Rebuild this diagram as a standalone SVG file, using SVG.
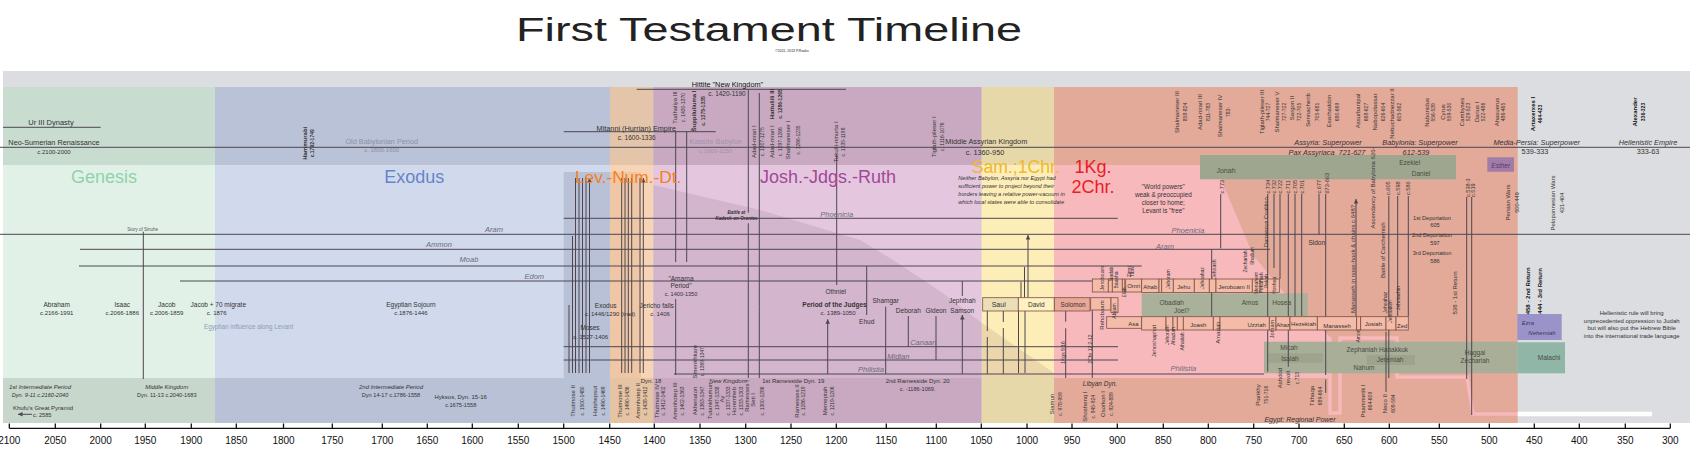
<svg xmlns="http://www.w3.org/2000/svg" width="1694" height="465" viewBox="0 0 1694 465">
<defs>
<marker id="ah" viewBox="0 0 6 6" refX="6" refY="3" markerWidth="4.5" markerHeight="4.5" orient="auto" markerUnits="userSpaceOnUse"><path d="M0,0L6,3L0,6z" fill="#4d4650"/></marker>
</defs>
<style>
text{font-family:"Liberation Sans",Arial,Helvetica,sans-serif;fill:#333}
.ln{stroke:#4d4650;stroke-width:1;fill:none}
.ar{stroke:#4d4650;stroke-width:1;fill:none;marker-end:url(#ah)}
.kb{stroke:#7e5040;stroke-width:0.8;fill:#f4bba9}
.m{text-anchor:middle}
.i{font-style:italic}
.b{font-weight:bold}
.s4{font-size:4.5px}
.s5{font-size:5px}
.s55{font-size:5.6px}
.s6{font-size:6px}
.s63{font-size:6.3px}
.s65{font-size:6.5px}
.s7{font-size:7px}
.s73{font-size:7.3px}
.s75{font-size:7.5px}
.nat{font-size:7.5px;font-style:italic;fill:#6e6a7a;text-anchor:middle}
.bk{font-size:18px}
.tk{font-family:"Liberation Sans Narrow","Liberation Sans",Arial,sans-serif;font-size:10px;text-anchor:middle;fill:#111}
.k{font-size:6px;text-anchor:middle}
.kd{font-size:5px;text-anchor:middle}
.pr{font-size:6.5px;text-anchor:middle;fill:#4a4c40}
</style>
<rect width="1694" height="465" fill="#ffffff"/>

<g id="title">
<text x="769" y="41" class="m" style="font-size:34px;fill:#222" textLength="506" lengthAdjust="spacingAndGlyphs">First Testament Timeline</text>
<text x="792" y="51.5" class="m" style="font-size:3.5px;fill:#222">©2011, 2013 P.Rooks</text>
</g>

<g id="background">
<rect x="3" y="71" width="1687" height="352" fill="#dcdde0"/>
<rect x="3" y="87" width="212" height="78" fill="#c8dcd0"/>
<rect x="3" y="165" width="212" height="213" fill="#e1f1e7"/>
<rect x="3" y="378" width="212" height="45" fill="#c7d7cc"/>
<rect x="215" y="87" width="395" height="78" fill="#b9c2d7"/>
<rect x="215" y="165" width="395" height="213" fill="#d1daed"/>
<rect x="563.7" y="172" width="46.3" height="206" fill="#b9c1d7"/>
<rect x="215" y="378" width="395" height="45" fill="#b9c1d7"/>
<rect x="610" y="87" width="43.3" height="78" fill="#e4c5aa"/>
<rect x="610" y="165" width="43.3" height="213" fill="#efc7a7"/>
<rect x="610" y="165" width="43.3" height="7" fill="#f8d4b6"/>
<rect x="641" y="172" width="12.3" height="206" fill="#f8d4b6"/>
<rect x="610" y="378" width="43.3" height="45" fill="#e6c3a3"/>
<rect x="653.3" y="87" width="328.4" height="78" fill="#c9a9c1"/>
<rect x="653.3" y="165" width="328.4" height="213" fill="#e4c7de"/>
<rect x="653.3" y="378" width="328.4" height="45" fill="#c9a9c1"/>
<rect x="981.7" y="87" width="72.3" height="78" fill="#e7d8aa"/>
<rect x="981.7" y="165" width="72.3" height="213" fill="#fdedb7"/>
<rect x="981.7" y="378" width="72.3" height="45" fill="#e7d8aa"/>
<rect x="1054" y="87" width="463.7" height="336" fill="#e3a999"/>
<polygon points="1054,165 1215,165 1253,255 1290,300 1330,337 1330,378 1054,378" fill="#f8b9bd"/>
<polygon points="653.3,185 760,210 860,240 893,260 940,291 982,323 1054,373 1054,378 653.3,378" fill="#4a1a40" opacity="0.1"/>
<polyline points="1330,337 1330,413 1340,413 1340,338 1397,338 1397,377 1467,377 1473,414 1517.7,414" fill="none" stroke="#f8b9bd" stroke-width="3.5"/>
<line x1="1517.7" y1="414" x2="1652" y2="414" stroke="#ffffff" stroke-width="4.5"/>
</g>

<g id="prophet-boxes">
<rect id="jonah-strip" x="1200" y="155" width="256" height="24.3" fill="#9fa68f"/>
<rect id="esther" x="1487.3" y="157.3" width="26.7" height="14.4" fill="#a27ca9"/>
<rect id="minor-prophets-1" x="1141.7" y="293.3" width="166" height="23.4" fill="#a9b19b"/>
<rect id="prophets-2" x="1264" y="341.7" width="253.7" height="31.6" fill="#a8ae98"/>
<rect x="1268.3" y="353.3" width="54.4" height="9.4" fill="#9da38c"/>
<rect x="1366.7" y="355" width="48.3" height="10" fill="#9da38c"/>
<rect id="malachi" x="1517.7" y="342.3" width="47.3" height="31" fill="#8fb6a6"/>
<rect id="ezra-nehemiah" x="1517.3" y="314" width="44.4" height="26" fill="#9a93c9"/>
</g>

<g id="connectors">
<path class="ln" d="M3,127.3H100.7M0,147.3H1690M636.7,89.3H846M563.7,131.7H715.7M563.7,218.3H1117.7M0,234.3H1690M80,249.3H1270M79,266H1141.7M180,281H1118M563.7,346.7H1118M563.7,360H1118M674,374H1264M143.3,231.7V379"/>
<path class="ar" d="M569,373V305M572.5,373V236M575.5,373V178M579,373V178M582.5,373V178M586,373V178M589.5,373V178"/>
<path class="ar" d="M621.7,373V178M625,373V178M628.3,373V178M631.7,373V178M640,373V178M643.3,373V178"/>
<path class="ar" d="M675.7,131.7V262M686.7,131.7V262M675.7,375V299M748.3,89.3V212.7M748.3,378V223.3M759.3,378V306.7M759.3,306.7V238.3M759.3,238.3V93M836.7,155V285M827.7,374V319.3"/>
<path class="ar" d="M866.7,266V315M885.7,374V306.7M908.3,346.7V316M936,360V316M962.3,281V296M962.3,374V315"/>
<path class="ar" d="M987.3,311V331M987.3,374V337M1003.3,311V322M1003.3,374V328M1018.5,311V373M1025,311V373M1021,297.7V282M1024.5,297.7V267M1028,297.7V235"/>
<path class="ar" d="M1065.7,311V321.7M1065.7,378V328.3M1092.3,378V310M1211.7,249.3V316.5M1220.7,194V248.3M1267.7,194V371.7M1274,194V268M1280,194V279M1288.3,194V366.7M1295,194V316M1301.7,194V316M1319,194V235M1325.7,194V375M1325.7,393V379.5M1356,316.7V199"/>
<path class="ar" d="M1388.8,196V378M1386,392V331.7M1397.7,196V316M1408.3,196V316.7M1466.7,197V379M1471.7,197V415M32,414.3H18"/>
</g>

<g id="king-boxes">
<g id="united-kingdom">
<rect x="982.7" y="297.7" width="35.6" height="13.3" class="kb" style="fill:#ebdfb8"/>
<rect x="1018.3" y="297.7" width="36" height="13.3" class="kb" style="fill:#fdf0c2"/>
<rect x="1054.3" y="297.7" width="35.7" height="13.3" class="kb" style="fill:#eaa898"/>
<text x="998.7" y="306.8" class="s7 m">Saul</text>
<text x="1036.3" y="306.8" class="s65 m">David</text>
<text x="1073" y="306.8" class="s63 m">Solomon</text>
</g>
<g id="israel-kings">
<rect x="1092.3" y="279" width="16" height="13" class="kb"/>
<rect x="1108.3" y="279" width="4" height="13" class="kb"/>
<rect x="1112.3" y="279" width="10" height="13" class="kb"/>
<rect x="1122.3" y="279" width="2.5" height="13" class="kb"/>
<rect x="1125.7" y="279" width="16" height="13" class="kb"/>
<rect x="1141.7" y="279" width="17.3" height="13.5" class="kb"/>
<rect x="1159" y="279" width="2.7" height="13.5" class="kb"/>
<rect x="1161.7" y="279" width="11.6" height="13.5" class="kb"/>
<rect x="1173.3" y="279" width="21" height="13.5" class="kb"/>
<rect x="1194.3" y="279" width="15" height="13.5" class="kb"/>
<rect x="1209.3" y="279" width="6.7" height="13.5" class="kb"/>
<rect x="1216" y="279" width="36.3" height="13.5" class="kb"/>
<rect x="1252.3" y="279" width="7.7" height="13.5" class="kb"/>
<rect x="1260" y="279" width="7.7" height="13.5" class="kb"/>
<rect x="1267.7" y="279" width="11.6" height="13.5" class="kb"/>
<text class="s55 m" transform="translate(1104 278) rotate(-90)">Jeroboam</text>
<text class="s5 m" transform="translate(1112.5 274) rotate(-90)">Nadab</text>
<text class="s5 m" transform="translate(1117.5 280) rotate(-90)">Baasha</text>
<text class="s5 m" transform="translate(1126 292.5) rotate(-90)">Elah</text>
<text class="s5 m" transform="translate(1130.5 271.7) rotate(-90)">Zimri</text>
<text class="s5 m" transform="translate(1134 271.7) rotate(-90)">Tibni</text>
<text x="1133.7" y="287.5" class="s6 m">Omri</text>
<text x="1150.3" y="289" class="s6 m">Ahab</text>
<text class="s5 m" transform="translate(1170 279) rotate(-90)">Jehoram</text>
<text x="1183.8" y="289" class="s6 m">Jehu</text>
<text class="s5 m" transform="translate(1203.5 278) rotate(-90)">Jehoahaz</text>
<text class="s5 m" transform="translate(1215.8 269) rotate(-90)">Jehoash</text>
<text x="1234" y="289" class="s6 m">Jeroboam II</text>
<text class="s5 m" transform="translate(1247 261.5) rotate(-90)">Zechariah</text>
<text class="s5 m" transform="translate(1254 256) rotate(-90)">Shallum</text>
<text class="s5 m" transform="translate(1257.5 283) rotate(-90)">Menahem</text>
<text class="s5 m" transform="translate(1263.3 283) rotate(-90)">Pekahiah</text>
<text class="s5 m" transform="translate(1268.3 281) rotate(-90)">Pekah</text>
<text class="s5 m" transform="translate(1275.5 285.5) rotate(-90)">Hoshea</text>
</g>
<g id="judah-kings">
<rect x="1090.7" y="297.7" width="20.3" height="12.3" class="kb"/>
<rect x="1111" y="297.7" width="7" height="15" class="kb"/>
<rect x="1106.7" y="316.7" width="35" height="11.6" class="kb"/>
<rect x="1141.7" y="316.7" width="24.3" height="13.3" class="kb"/>
<rect x="1166" y="316.7" width="7" height="13.3" class="kb"/>
<rect x="1173" y="316.7" width="4.3" height="13.3" class="kb"/>
<rect x="1177.3" y="316.7" width="6" height="13.3" class="kb"/>
<rect x="1183.3" y="316.7" width="30" height="13.3" class="kb"/>
<rect x="1213.3" y="316.7" width="6.7" height="13.3" class="kb"/>
<rect x="1220" y="316.7" width="49.3" height="13.3" class="kb"/>
<rect x="1269.3" y="316.7" width="6.7" height="13.3" class="kb"/>
<rect x="1276" y="316.7" width="14" height="13.3" class="kb"/>
<rect x="1290" y="316.7" width="27.3" height="13.3" class="kb"/>
<rect x="1317.3" y="316.7" width="39.4" height="13.3" class="kb"/>
<rect x="1356.7" y="316.7" width="4" height="13.3" class="kb"/>
<rect x="1360.7" y="316.7" width="25.3" height="13.3" class="kb"/>
<rect x="1386" y="316.7" width="10" height="13.3" class="kb"/>
<rect x="1396" y="316.7" width="12.3" height="13.3" class="kb"/>
<text class="s6 m" transform="translate(1104 315) rotate(-90)">Rehoboam</text>
<text class="s5 m" transform="translate(1116.3 311) rotate(-90)">Abijam</text>
<text x="1133.3" y="325.6" class="s6 m">Asa</text>
<text class="s55 m" transform="translate(1155.5 341) rotate(-90)">Jehoshaphat</text>
<text class="s5 m" transform="translate(1169.3 335) rotate(-90)">Jehoram</text>
<text class="s5 m" transform="translate(1174.7 336) rotate(-90)">Ahaziah</text>
<text class="s5 m" transform="translate(1183.7 341.5) rotate(-90)">Athaliah</text>
<text x="1198.3" y="327.4" class="s6 m">Joash</text>
<text class="s55 m" transform="translate(1220.3 332.5) rotate(-90)">Amaziah</text>
<text x="1256.7" y="327.4" class="s6 m">Uzziah</text>
<text class="s55 m" transform="translate(1273.7 329) rotate(-90)">Jotham</text>
<text x="1283" y="327.4" class="s6 m">Ahaz</text>
<text x="1303.6" y="325.7" class="s6 m">Hezekiah</text>
<text x="1337" y="328" class="s6 m">Manasseh</text>
<text class="s5 m" transform="translate(1360.3 336) rotate(-90)">Amon</text>
<text x="1373.3" y="326.4" class="s6 m">Josiah</text>
<text class="s5 m" transform="translate(1387 302.5) rotate(-90)">Jehoahaz</text>
<text class="s5 m" transform="translate(1392 311.5) rotate(-90)">Jehoiakim</text>
<text class="s5 m" transform="translate(1399.7 298) rotate(-90)">Jehoiachin</text>
<text x="1402.2" y="328" class="s6 m">Zed</text>
</g>
</g>

<g id="mesopotamia-labels">
<text x="51" y="125" class="s75 m">Ur III Dynasty</text>
<text x="54" y="145.3" class="s73 m">Neo-Sumerian Renaissance</text>
<text x="54" y="154" class="s6 m">c.2100-2000</text>
<text class="s6 m b" transform="translate(306.7 143.3) rotate(-90)">Hammurabi</text>
<text class="kd b" transform="translate(314.3 143.3) rotate(-90)">c.1792-1749</text>
<text x="381.7" y="144.3" class="s73 m" style="fill:#8a91a8">Old Babylonian Period</text>
<text x="381.7" y="152.3" class="s6 m" style="fill:#8a91a8">c. 1800-1600</text>
<text x="636.3" y="131" class="s73 m">Mitanni (Hurrian) Empire</text>
<text x="636.7" y="139.5" class="s65 m">c. 1600-1336</text>
<text x="727.5" y="86.5" class="s73 m" style="fill:#111">Hittite "New Kingdom"</text>
<text x="727" y="96" class="s65 m">c. 1420-1190</text>
<text x="715.7" y="144.3" class="s73 m" style="fill:#a393ab">Kassite Babylon</text>
<text x="715.7" y="152.5" class="s6 m" style="fill:#a393ab">c 1600-1150</text>
<text x="986.3" y="144.3" class="s73 m">Middle Assyrian Kingdom</text>
<text x="985" y="155.3" class="s73 m">c. 1360-950</text>
<text x="1328" y="145" class="s73 m i">Assyria: Superpower</text>
<text x="1327" y="154.5" class="s73 m i">Pax Assyriaca&#160;&#160;721-627</text>
<text x="1420" y="145" class="s73 m i">Babylonia: Superpower</text>
<text x="1416" y="154.5" class="s73 m i">612-539</text>
<text x="1536.7" y="145" class="s73 m i">Media-Persia: Superpower</text>
<text x="1535" y="154" class="s73 m">539-333</text>
<text x="1648" y="145" class="s73 m i">Hellenistic Empire</text>
<text x="1648" y="154" class="s73 m">333-63</text>
<text class="k" transform="translate(677 107.5) rotate(-90)">Tudhaliya III</text>
<text class="kd" transform="translate(685 107.5) rotate(-90)">c. 1430-1370</text>
<text class="k b" transform="translate(696 111) rotate(-90)">Šuppiluliuma I</text>
<text class="kd b" transform="translate(704.5 111) rotate(-90)">c. 1375-1335</text>
<text class="k" transform="translate(756 141.7) rotate(-90)">Adad-nirari I</text>
<text class="kd" transform="translate(764 141.7) rotate(-90)">c. 1307-1275</text>
<text class="k b" transform="translate(774 104) rotate(-90)">Hattušili III</text>
<text class="kd b" transform="translate(782 104) rotate(-90)">c. 1286-1265</text>
<text class="k" transform="translate(774 141.7) rotate(-90)">Adad-nirari I</text>
<text class="kd" transform="translate(782 141.7) rotate(-90)">c. 1297-1266</text>
<text class="k" transform="translate(790.3 140) rotate(-90)">Shalmaneser I</text>
<text class="kd" transform="translate(800 140) rotate(-90)">c. 1266-1235</text>
<text class="k" transform="translate(837.7 142) rotate(-90)">Tukulti-ninurta I</text>
<text class="kd" transform="translate(845.3 142) rotate(-90)">c. 1235-1198</text>
<text class="k" transform="translate(936 136.7) rotate(-90)">Tiglath-pileser I</text>
<text class="kd" transform="translate(944 136.7) rotate(-90)">c. 1116-1076</text>
<text class="k" transform="translate(1179.3 112) rotate(-90)">Shalmaneser III</text>
<text class="kd" transform="translate(1187 112) rotate(-90)">858-824</text>
<text class="k" transform="translate(1202 112) rotate(-90)">Adad-nirari III</text>
<text class="kd" transform="translate(1210 112) rotate(-90)">811-783</text>
<text class="k" transform="translate(1222 116) rotate(-90)">Shalmaneser IV</text>
<text class="kd" transform="translate(1230 112) rotate(-90)">783-</text>
<text class="k" transform="translate(1263.7 112) rotate(-90)">Tiglath-pileser III</text>
<text class="kd" transform="translate(1270.3 112) rotate(-90)">744-727</text>
<text class="k" transform="translate(1278.7 112) rotate(-90)">Shalmaneser V</text>
<text class="kd" transform="translate(1286.3 112) rotate(-90)">727-722</text>
<text class="k" transform="translate(1293.7 108) rotate(-90)">Sargon II</text>
<text class="kd" transform="translate(1301.3 112) rotate(-90)">722-705</text>
<text class="k" transform="translate(1310.3 110) rotate(-90)">Sennacherib</text>
<text class="kd" transform="translate(1318.7 112) rotate(-90)">705-681</text>
<text class="k" transform="translate(1331.3 111) rotate(-90)">Esarhaddon</text>
<text class="kd" transform="translate(1339.3 112) rotate(-90)">680-669</text>
<text class="k" transform="translate(1360.3 111) rotate(-90)">Assurbanipal</text>
<text class="kd" transform="translate(1368 112) rotate(-90)">668-627</text>
<text class="k" transform="translate(1377.3 112) rotate(-90)">Nabopolassar</text>
<text class="kd" transform="translate(1384.7 112) rotate(-90)">626-604</text>
<text class="k" transform="translate(1393.7 113.5) rotate(-90)">Nebuchadnezzar II</text>
<text class="kd" transform="translate(1401.3 112) rotate(-90)">605-562</text>
<text class="k" transform="translate(1429.3 112.4) rotate(-90)">Nabonidus</text>
<text class="kd" transform="translate(1435.3 112.4) rotate(-90)">556-539</text>
<text class="k" transform="translate(1445.3 112) rotate(-90)">Cyrus</text>
<text class="kd" transform="translate(1451.3 112) rotate(-90)">559-530</text>
<text class="k" transform="translate(1463.7 112) rotate(-90)">Cambyses</text>
<text class="kd" transform="translate(1470.3 112) rotate(-90)">529-523</text>
<text class="k" transform="translate(1479.3 112) rotate(-90)">Darius I</text>
<text class="kd" transform="translate(1485.3 112) rotate(-90)">522-486</text>
<text class="k" transform="translate(1498.7 112) rotate(-90)">Ahasuerus</text>
<text class="kd" transform="translate(1505.3 112) rotate(-90)">486-465</text>
<text class="k b" transform="translate(1534.7 114) rotate(-90)" style="fill:#111">Artaxerxes I</text>
<text class="kd b" transform="translate(1542 114) rotate(-90)" style="fill:#111">464-423</text>
<text class="k b" transform="translate(1637 112) rotate(-90)" style="fill:#111">Alexander</text>
<text class="kd b" transform="translate(1644.5 112) rotate(-90)" style="fill:#111">336-323</text>
</g>

<g id="book-titles">
<text x="104" y="182.7" class="bk m" style="fill:#8fd3aa">Genesis</text>
<text x="414.3" y="182.7" class="bk m" style="fill:#6585c9">Exodus</text>
<text x="575" y="182.7" class="bk" style="fill:#f5801e;font-size:17.3px">Lev.-Num.-Dt.</text>
<text x="760" y="182.7" class="bk" style="fill:#a2489a">Josh.-Jdgs.-Ruth</text>
<text x="971.7" y="173.3" class="bk" style="fill:#efb82e;font-size:17.6px">Sam.;1Chr.</text>
<text x="1093" y="173.3" class="bk m" style="fill:#ea1c24">1Kg.</text>
<text x="1093" y="192.7" class="bk m" style="fill:#ea1c24">2Chr.</text>
</g>

<g id="levant-labels">
<text x="142.7" y="230.5" class="s4 m" style="fill:#555">Story of Sinuhe</text>
<text x="494" y="231.8" class="nat">Aram</text>
<text x="439" y="247" class="nat">Ammon</text>
<text x="469" y="262.3" class="nat">Moab</text>
<text x="534.3" y="278.5" class="nat">Edom</text>
<text x="836.7" y="216.8" class="nat">Phoenicia</text>
<text x="1188" y="233" class="nat">Phoenicia</text>
<text x="1165" y="248.5" class="nat">Aram</text>
<text x="923.3" y="345.3" class="nat">Canaan</text>
<text x="898.3" y="358.6" class="nat">Midian</text>
<text x="871" y="372" class="nat">Philistia</text>
<text x="1183.3" y="371" class="nat">Philistia</text>
<text x="56.7" y="306.7" class="s65 m">Abraham</text>
<text x="56.7" y="315" class="s6 m">c.2166-1991</text>
<text x="122.3" y="306.7" class="s65 m">Isaac</text>
<text x="122.3" y="315" class="s6 m">c.2066-1886</text>
<text x="166.7" y="306.7" class="s65 m">Jacob</text>
<text x="166.7" y="315" class="s6 m">c.2006-1859</text>
<text x="218.3" y="306.7" class="s65 m">Jacob + 70 migrate</text>
<text x="216.7" y="315" class="s6 m">c. 1876</text>
<text x="204" y="328.5" class="s63" style="fill:#8c9bb5">Egyptian influence along Levant</text>
<text x="411" y="306.8" class="s65 m">Egyptian Sojourn</text>
<text x="411" y="315" class="s6 m">c.1876-1446</text>
<text x="681" y="280.7" class="s65 m">"Amarna</text>
<text x="681" y="288.4" class="s65 m">Period"</text>
<text x="681" y="296" class="s55 m">c. 1400-1350</text>
<text x="605.7" y="307.5" class="s65 m">Exodus</text>
<text x="610" y="315.6" class="s6 m">c. 1446/1290 (trad)</text>
<text x="590" y="330" class="s65 m">Moses</text>
<text x="590.7" y="338.6" class="s6 m">c. 1527-1406</text>
<text x="656.7" y="307.5" class="s65 m">Jericho falls</text>
<text x="660" y="315.6" class="s6 m">c. 1406</text>
<text x="736.5" y="213.5" class="s4 m i b">Battle at</text>
<text x="736.5" y="219.5" class="s4 m i b">Kadesh-on-Orontes</text>
<text x="835.7" y="294.2" class="s65 m">Othniel</text>
<text x="834.5" y="306.8" class="s65 m b">Period of the Judges</text>
<text x="838" y="315" class="s6 m">c. 1389-1050</text>
<text x="866.7" y="324.2" class="s65 m">Ehud</text>
<text x="885.7" y="303.2" class="s65 m">Shamgar</text>
<text x="908.3" y="313.2" class="s65 m">Deborah</text>
<text x="936" y="313.2" class="s65 m">Gideon</text>
<text x="962.3" y="303.2" class="s65 m">Jephthah</text>
<text x="962.3" y="313.2" class="s65 m">Samson</text>
<g class="s55 i" style="fill:#2a2030">
<text x="958.3" y="180">Neither Babylon, Assyria nor Egypt had</text>
<text x="958.3" y="188.3">sufficient power to project beyond their</text>
<text x="958.3" y="196">borders leaving a relative power-vacuum in</text>
<text x="958.3" y="204">which local states were able to consolidate</text>
</g>
<text x="1163.3" y="189.1" class="s63 m">"World powers"</text>
<text x="1163.3" y="196.8" class="s63 m">weak &amp; preoccupied</text>
<text x="1163.3" y="205.1" class="s63 m">closer to home;</text>
<text x="1163.3" y="213.4" class="s63 m">Levant is "free"</text>
<text x="1316.7" y="245" class="s65 m">Sidon</text>
<text class="s55" transform="translate(1223.5 193.5) rotate(-90)">c.773</text>
<text class="s55" transform="translate(1269.7 193.5) rotate(-90)">c.734</text>
<text class="s55" transform="translate(1276 193.5) rotate(-90)">c.732</text>
<text class="s55" transform="translate(1282 193.5) rotate(-90)">c.722</text>
<text class="s55" transform="translate(1290.3 193.5) rotate(-90)">c.711</text>
<text class="s55" transform="translate(1297 193.5) rotate(-90)">c.705</text>
<text class="s55" transform="translate(1303.7 193.5) rotate(-90)">c.701</text>
<text class="s55" transform="translate(1321 193.5) rotate(-90)">c.677</text>
<text class="s55" transform="translate(1328.7 193.5) rotate(-90)">673-663</text>
<text class="s55" transform="translate(1390.3 195) rotate(-90)">c.605</text>
<text class="s55" transform="translate(1399.7 195) rotate(-90)">c.598</text>
<text class="s55" transform="translate(1410.3 195) rotate(-90)">c.586</text>
<text class="s55" transform="translate(1470.3 197) rotate(-90)">c.538-3</text>
<text class="s55" transform="translate(1475.3 197) rotate(-90)">c.519</text>
<text class="s55" transform="translate(1268 247) rotate(-90)">Damascus Coalition</text>
<text class="s6" transform="translate(1374.7 228.5) rotate(-90)">Ascendancy of Babylonia 626-</text>
<text class="s6" transform="translate(1354.7 313) rotate(-90)">Manasseh in nose-hook &amp; chains c.648?</text>
<text class="s6" transform="translate(1384.7 278) rotate(-90)">Battle of Carchemish</text>
<text x="1432" y="219.5" class="s55 m">1st Deportation</text>
<text x="1435" y="227" class="s55 m">605</text>
<text x="1432" y="237.3" class="s55 m">2nd Deportation</text>
<text x="1435" y="245" class="s55 m">597</text>
<text x="1432" y="255" class="s55 m">3rd Deportation</text>
<text x="1435" y="262.7" class="s55 m">586</text>
<text class="s6 m" transform="translate(1510.3 202.5) rotate(-90)">Persian Wars</text>
<text class="s55 m" transform="translate(1518.7 202.5) rotate(-90)">500-449</text>
<text class="s6 m" transform="translate(1555.3 203) rotate(-90)">Peloponnesian Wars</text>
<text class="s55 m" transform="translate(1563.7 203) rotate(-90)">431-404</text>
<text class="s6 m" transform="translate(1457 293) rotate(-90)">538 - 1st Return</text>
<text class="s6 m b" transform="translate(1530.3 290.8) rotate(-90)" style="fill:#111">458 - 2nd Return</text>
<text class="s6 m b" transform="translate(1542 290.8) rotate(-90)" style="fill:#111">444 - 3rd Return</text>
<g class="s6 m" style="fill:#111">
<text x="1631.7" y="314.5">Hellenistic rule will bring</text>
<text x="1631.7" y="322.5">unprecedented oppression to Judah</text>
<text x="1631.7" y="330">but will also put the Hebrew Bible</text>
<text x="1631.7" y="338">into the international trade language</text>
</g>
<text class="s5 m" transform="translate(1065.3 352.5) rotate(-90)">1Kgs 9:16</text>
<text class="s5 m" transform="translate(1092 349) rotate(-90)">2Chr 12:2-12</text>
</g>

<g id="prophet-labels">
<text x="1226" y="173" class="pr" style="font-size:7px">Jonah</text>
<text x="1409.7" y="164.7" class="pr">Ezekiel</text>
<text x="1421" y="175.7" class="pr">Daniel</text>
<text x="1500.7" y="167.5" class="s65 m i" style="fill:#5a3a64">Esther</text>
<text x="1171.7" y="304.8" class="pr">Obadiah</text>
<text x="1181.7" y="313.2" class="pr">Joel?</text>
<text x="1250" y="304.8" class="pr">Amos</text>
<text x="1281.7" y="304.8" class="pr">Hosea</text>
<text x="1289" y="350" class="pr">Micah</text>
<text x="1290" y="360.6" class="pr">Isaiah</text>
<text x="1377.3" y="351.6" class="pr">Zephaniah Habakkuk</text>
<text x="1390" y="362.3" class="pr">Jeremiah</text>
<text x="1364" y="369.6" class="pr">Nahum</text>
<text x="1475" y="354.6" class="pr">Haggai</text>
<text x="1475" y="363" class="pr">Zechariah</text>
<text x="1549" y="359.6" class="pr">Malachi</text>
<text x="1521.7" y="325" class="s6 i" style="fill:#3a3560">Ezra</text>
<text x="1528.3" y="334.6" class="s6 i" style="fill:#3a3560">Nehemiah</text>
</g>

<g id="egypt-labels" style="fill:#444">
<text x="40" y="389" class="s6 m i">1st Intermediate Period</text>
<text x="40" y="397.3" class="s55 m i">Dyn. 9-11 c.2160-2040</text>
<text x="166.7" y="389" class="s6 m i">Middle Kingdom</text>
<text x="166.7" y="397.3" class="s55 m">Dyn. 11-13 c.2040-1683</text>
<text x="43" y="409.7" class="s6 m">Khufu's Great Pyramid</text>
<text x="33" y="416.6" class="s55">c. 2585</text>
<text x="391" y="389" class="s6 m i">2nd Intermediate Period</text>
<text x="391" y="397.3" class="s55 m">Dyn 14-17 c.1786-1558</text>
<text x="460.7" y="399" class="s6 m">Hyksos, Dyn. 15-16</text>
<text x="460.7" y="406.7" class="s55 m">c.1675-1558</text>
<text x="651" y="383" class="s6 m">Dyn. 18</text>
<text x="728" y="383" class="s6 m i">New Kingdom</text>
<text x="793.3" y="383" class="s6 m">1st Ramesside Dyn. 19</text>
<text x="917.7" y="383" class="s6 m">2nd Ramesside Dyn. 20</text>
<text x="917.7" y="390.7" class="s55 m">c. -1186-1069.</text>
<text x="1100" y="385.8" class="s65 m i">Libyan Dyn.</text>
<text x="1300" y="421.5" class="s7 m i">Egypt: Regional Power</text>
<text class="k" transform="translate(575.3 401) rotate(-90)">Thutmose II</text>
<text class="kd" transform="translate(583.5 401) rotate(-90)">c. 1500-1480</text>
<text class="k" transform="translate(597 401) rotate(-90)">Hatshepsut</text>
<text class="kd" transform="translate(604.5 401) rotate(-90)">c. 1490-1469</text>
<text class="k" transform="translate(622 401) rotate(-90)">Thutmose III</text>
<text class="kd" transform="translate(629 401) rotate(-90)">c. 1490-1436</text>
<text class="k" transform="translate(640.3 401) rotate(-90)">Amenhotep II</text>
<text class="kd" transform="translate(647 401) rotate(-90)">c. 1438-1412</text>
<text class="k" transform="translate(658.7 401) rotate(-90)">Thutmose IV</text>
<text class="kd" transform="translate(665 401) rotate(-90)">c. 1412-1402</text>
<text class="k" transform="translate(677 401) rotate(-90)">Amenhotep III</text>
<text class="kd" transform="translate(684 401) rotate(-90)">c. 1402-1363</text>
<text class="k" transform="translate(697 361.7) rotate(-90)">Smenkhkare</text>
<text class="kd" transform="translate(704 361.7) rotate(-90)">c. 1369-1347</text>
<text class="k" transform="translate(697 401) rotate(-90)">Akhenaton</text>
<text class="kd" transform="translate(704 401) rotate(-90)">c. 1363-1347</text>
<text class="k" transform="translate(712 401) rotate(-90)">Tutankhamun</text>
<text class="kd" transform="translate(719 401) rotate(-90)">c. 1347-1338</text>
<text class="k" transform="translate(723.7 399) rotate(-90)">Ay</text>
<text class="kd" transform="translate(730 401) rotate(-90)">c. 1337-1333</text>
<text class="k" transform="translate(736 401) rotate(-90)">Horemheb</text>
<text class="kd" transform="translate(742.5 401) rotate(-90)">c. 1333-1303</text>
<text class="k" transform="translate(749 396) rotate(-90)">Ramesses I</text>
<text class="k" transform="translate(755.3 400) rotate(-90)">Seti I</text>
<text class="kd" transform="translate(763.7 401) rotate(-90)">c. 1300-1286</text>
<text class="k" transform="translate(798.7 401) rotate(-90)">Ramesses II</text>
<text class="kd" transform="translate(805.3 401) rotate(-90)">c. 1286-1219</text>
<text class="k" transform="translate(827 401) rotate(-90)">Merneptah</text>
<text class="kd" transform="translate(834 401) rotate(-90)">c. 1219-1206</text>
<text class="k" transform="translate(1053.7 404) rotate(-90)">Siamun</text>
<text class="kd" transform="translate(1061.5 404) rotate(-90)">c. 978-959</text>
<text class="k" transform="translate(1087 406.7) rotate(-90)">Shoshenq I</text>
<text class="kd" transform="translate(1094.5 406.7) rotate(-90)">c. 945-924</text>
<text class="k" transform="translate(1105.3 404) rotate(-90)">Osorkon I</text>
<text class="kd" transform="translate(1113.2 404) rotate(-90)">c. 924-889</text>
<text class="k" transform="translate(1260.3 395) rotate(-90)">Piankhy</text>
<text class="kd" transform="translate(1268 395) rotate(-90)">751-716</text>
<text class="k" transform="translate(1282 378) rotate(-90)">Ashdod</text>
<text class="k" transform="translate(1290.3 378) rotate(-90)">revolt</text>
<text class="kd" transform="translate(1298.7 378) rotate(-90)">c.713</text>
<text class="k" transform="translate(1314.3 396) rotate(-90)">Tirhaqa</text>
<text class="kd" transform="translate(1322 396) rotate(-90)">689-664</text>
<text class="k" transform="translate(1364.7 401) rotate(-90)">Psammetik I</text>
<text class="kd" transform="translate(1372 401) rotate(-90)">664-609</text>
<text class="k" transform="translate(1387 403.7) rotate(-90)">Neco II</text>
<text class="kd" transform="translate(1394.7 403.7) rotate(-90)">609-594</text>
</g>

<g id="axis">
<line x1="9.3" y1="428.3" x2="1670.3" y2="428.3" stroke="#111" stroke-width="1.3"/>
<path d="M9.3,423.5V428.3M55.3,423.5V428.3M100.7,423.5V428.3M145.3,423.5V428.3M191.3,423.5V428.3M236.3,423.5V428.3M283.5,423.5V428.3M332.3,423.5V428.3M382.3,423.5V428.3M427.3,423.5V428.3M472.3,423.5V428.3M518.3,423.5V428.3M563.7,423.5V428.3M609.7,423.5V428.3M654.3,423.5V428.3M700,423.5V428.3M745.7,423.5V428.3M791,423.5V428.3M836.3,423.5V428.3M886.3,423.5V428.3M936.3,423.5V428.3M981.3,423.5V428.3M1027,423.5V428.3M1072,423.5V428.3M1117.3,423.5V428.3M1163.3,423.5V428.3M1208.3,423.5V428.3M1253.7,423.5V428.3M1299,423.5V428.3M1344.3,423.5V428.3M1389.3,423.5V428.3M1439.3,423.5V428.3M1489.3,423.5V428.3M1534.3,423.5V428.3M1579.3,423.5V428.3M1625.3,423.5V428.3M1670.3,423.5V428.3" stroke="#111" stroke-width="1.3"/>
<text x="9.3" y="443.5" class="tk">2100</text>
<text x="55.3" y="443.5" class="tk">2050</text>
<text x="100.7" y="443.5" class="tk">2000</text>
<text x="145.3" y="443.5" class="tk">1950</text>
<text x="191.3" y="443.5" class="tk">1900</text>
<text x="236.3" y="443.5" class="tk">1850</text>
<text x="283.5" y="443.5" class="tk">1800</text>
<text x="332.3" y="443.5" class="tk">1750</text>
<text x="382.3" y="443.5" class="tk">1700</text>
<text x="427.3" y="443.5" class="tk">1650</text>
<text x="472.3" y="443.5" class="tk">1600</text>
<text x="518.3" y="443.5" class="tk">1550</text>
<text x="563.7" y="443.5" class="tk">1500</text>
<text x="609.7" y="443.5" class="tk">1450</text>
<text x="654.3" y="443.5" class="tk">1400</text>
<text x="700" y="443.5" class="tk">1350</text>
<text x="745.7" y="443.5" class="tk">1300</text>
<text x="791" y="443.5" class="tk">1250</text>
<text x="836.3" y="443.5" class="tk">1200</text>
<text x="886.3" y="443.5" class="tk">1150</text>
<text x="936.3" y="443.5" class="tk">1100</text>
<text x="981.3" y="443.5" class="tk">1050</text>
<text x="1027" y="443.5" class="tk">1000</text>
<text x="1072" y="443.5" class="tk">950</text>
<text x="1117.3" y="443.5" class="tk">900</text>
<text x="1163.3" y="443.5" class="tk">850</text>
<text x="1208.3" y="443.5" class="tk">800</text>
<text x="1253.7" y="443.5" class="tk">750</text>
<text x="1299" y="443.5" class="tk">700</text>
<text x="1344.3" y="443.5" class="tk">650</text>
<text x="1389.3" y="443.5" class="tk">600</text>
<text x="1439.3" y="443.5" class="tk">550</text>
<text x="1489.3" y="443.5" class="tk">500</text>
<text x="1534.3" y="443.5" class="tk">450</text>
<text x="1579.3" y="443.5" class="tk">400</text>
<text x="1625.3" y="443.5" class="tk">350</text>
<text x="1670.3" y="443.5" class="tk">300</text>
</g>
</svg>
